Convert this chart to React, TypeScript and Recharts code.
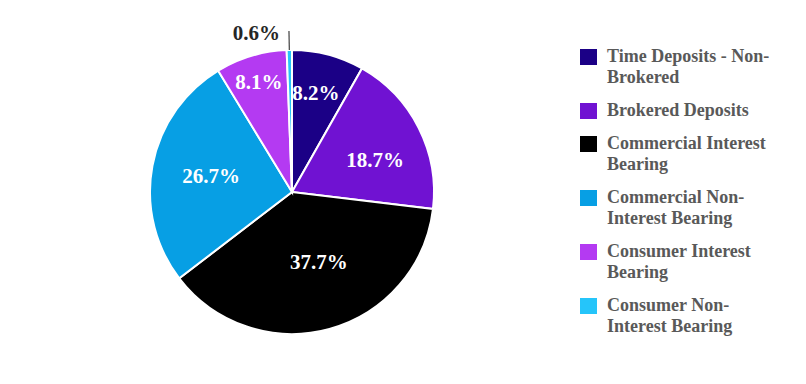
import React from 'react';
import {PieChart, Pie, Cell, Legend} from 'recharts';

const categories = [
    'Time Deposits - Non-Brokered',
    'Brokered Deposits',
    'Commercial Interest Bearing',
    'Commercial Non-Interest Bearing',
    'Consumer Interest Bearing',
    'Consumer Non-Interest Bearing',
];
const shares = [8.2, 18.7, 37.7, 26.7, 8.1, 0.6];
const colors = ['#1b0086', '#7012d2', '#000000', '#079fe4', '#b43af2', '#25c5fa'];

// inside label placement: share of radius, and clockwise nudge off the mid angle
const labelRadius = [0.72, 0.627, 0.525, 0.58, 0.81];
const labelTurn = [-1.3, 5.7, -5.9, 0.6, 0];

const FONT = '"Liberation Serif", "Times New Roman", serif';
const RAD = Math.PI / 180;

const data = categories.map((name, i) => ({name, value: shares[i]}));

const renderLabel = (props: any) => {
    const {cx, cy, midAngle, outerRadius, index, value} = props;
    if (index >= labelRadius.length) {
        const cos = Math.cos(-midAngle * RAD);
        const sin = Math.sin(-midAngle * RAD);
        const x1 = cx + outerRadius * cos;
        const y1 = cy + outerRadius * sin;
        const x2 = cx + (outerRadius + 19) * cos;
        const y2 = cy + (outerRadius + 19) * sin;
        return (
            <g>
                <line x1={x1} y1={y1} x2={x2} y2={y2} stroke="#404040" strokeWidth={1.2}/>
                <text x={x2 - 9} y={y2 + 2} textAnchor="end" dominantBaseline="central"
                      fontFamily={FONT} fontWeight="bold" fontSize={21} fill="#262626">
                    {value.toFixed(1)}%
                </text>
            </g>
        );
    }
    const a = (midAngle - labelTurn[index]) * RAD;
    const r = outerRadius * labelRadius[index];
    return (
        <text x={cx + r * Math.cos(-a)} y={cy + r * Math.sin(-a)} textAnchor="middle" dominantBaseline="central"
              fontFamily={FONT} fontWeight="bold" fontSize={21} fill="#ffffff">
            {value.toFixed(1)}%
        </text>
    );
};

const renderLegend = () => (
    <div style={{width: 200, fontFamily: FONT, fontWeight: 'bold', fontSize: 18, color: '#595959'}}>
        {categories.map((name, i) => (
            <div key={name} style={{display: 'flex', alignItems: 'flex-start', marginBottom: 12, lineHeight: '21px'}}>
                <span style={{
                    width: 17, height: 16, background: colors[i], marginTop: 2.5, marginRight: 10, flexShrink: 0,
                }}/>
                <span style={{width: 170}}>{name}</span>
            </div>
        ))}
    </div>
);

const App: React.FC = () => {
    return (
        <div style={{position: 'absolute', left: 0, top: 0, background: '#fff'}}>
            <PieChart width={806} height={384} margin={{top: 0, right: 0, bottom: 0, left: 0}}>
                <Pie
                    data={data}
                    dataKey="value"
                    nameKey="name"
                    cx={292}
                    cy={192}
                    outerRadius={142}
                    startAngle={90}
                    endAngle={-270}
                    stroke="#ffffff"
                    strokeWidth={2}
                    label={renderLabel}
                    labelLine={false}
                    isAnimationActive={false}
                >
                    {data.map((entry, i) => (
                        <Cell key={entry.name} fill={colors[i]}/>
                    ))}
                </Pie>
                <Legend content={renderLegend} wrapperStyle={{left: 580, top: 46, width: 200}}/>
            </PieChart>
        </div>
    );
};

export default App;
